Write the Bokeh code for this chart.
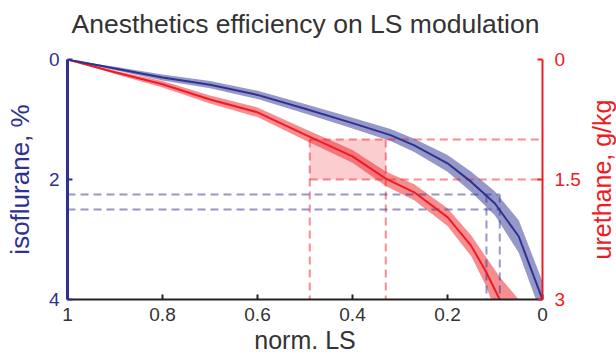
import math
from bokeh.plotting import figure
from bokeh.layouts import row, column
from bokeh.models import Range1d, LinearAxis, FixedTicker, NumeralTickFormatter
from bokeh.embed import file_html
from bokeh.resources import INLINE

# ---- texts ----
title_text = "Anesthetics efficiency on LS modulation"
x_label = "norm. LS"
iso_label = "isoflurane, %"
ure_label = "urethane, g/kg"

# ---- ticks ----
ls_ticks = [1.0, 0.8, 0.6, 0.4, 0.2, 0.0]
iso_ticks = [0, 2, 4]
ure_ticks = [0, 1.5, 3]

# ---- isoflurane (left axis) ----
ls_iso = [1.0, 0.9, 0.8, 0.7, 0.6, 0.5, 0.4, 0.32, 0.27, 0.2, 0.15, 0.1, 0.05, 0.0]
iso_mean = [0.0, 0.15, 0.30, 0.42, 0.59, 0.82, 1.06, 1.26, 1.43, 1.73, 2.04, 2.40, 2.95, 4.0]
iso_sd = [0.0, 0.03, 0.05, 0.06, 0.07, 0.08, 0.09, 0.10, 0.11, 0.14, 0.17, 0.20, 0.27, 0.30]

# ---- urethane (right axis) ----
ls_ure = [1.0, 0.9, 0.8, 0.7, 0.6, 0.5, 0.4, 0.33, 0.27, 0.2, 0.15, 0.12, 0.09, 0.05]
ure_mean = [0.0, 0.16, 0.31, 0.50, 0.66, 0.94, 1.21, 1.49, 1.66, 1.97, 2.33, 2.64, 3.0, 3.45]
ure_sd = [0.0, 0.02, 0.04, 0.05, 0.06, 0.07, 0.08, 0.09, 0.10, 0.11, 0.13, 0.18, 0.28, 0.45]

# ---- highlighted windows ----
ure_window_ls = [0.49, 0.33]
ure_window_dose = [1.0, 1.5]
iso_window_ls = [0.118, 0.09]
iso_window_dose = [2.25, 2.5]

NAVY = "#2e3192"
RED = "#ed1c24"
DARK = "#333333"
FONT = "Liberation Sans"

W, H = 616, 356
TITLE_H = 50
RIGHT_W = 33
FRAME_L, FRAME_R, FRAME_T, FRAME_B = 67, 543, 59, 300


def style_blank(f):
    f.outline_line_color = None
    f.grid.visible = False
    f.background_fill_color = "white"
    f.border_fill_color = "white"


# ---- title strip ----
pt = figure(width=W, height=TITLE_H, output_backend="svg", toolbar_location=None,
            x_axis_location=None, y_axis_location=None,
            x_range=Range1d(0, 1), y_range=Range1d(0, 1),
            min_border_left=FRAME_L, min_border_right=W - FRAME_R, min_border_top=0, min_border_bottom=0)
style_blank(pt)
pt.title.text = title_text
pt.title.align = "center"
pt.title.text_font = FONT
pt.title.text_font_size = "26.5px"
pt.title.text_font_style = "normal"
pt.title.text_color = DARK
pt.title.standoff = 13

# ---- main plot ----
PW, PH = W - RIGHT_W, H - TITLE_H
p = figure(width=PW, height=PH, output_backend="svg", toolbar_location=None,
           x_range=Range1d(1, 0), y_range=Range1d(4, 0),
           min_border_left=FRAME_L, min_border_right=PW - FRAME_R,
           min_border_top=FRAME_T - TITLE_H, min_border_bottom=H - FRAME_B)
p.extra_y_ranges = {"ure": Range1d(3, 0)}
style_blank(p)

iso_lo = [m - s for m, s in zip(iso_mean, iso_sd)]
iso_hi = [m + s for m, s in zip(iso_mean, iso_sd)]
ure_lo = [m - s for m, s in zip(ure_mean, ure_sd)]
ure_hi = [m + s for m, s in zip(ure_mean, ure_sd)]

# red window fill
p.quad(left=[ure_window_ls[0]], right=[ure_window_ls[1]],
       top=[ure_window_dose[0]], bottom=[ure_window_dose[1]],
       y_range_name="ure", fill_color=RED, fill_alpha=0.22, line_color=None)

p.varea(x=ls_ure, y1=ure_lo, y2=ure_hi, y_range_name="ure", fill_color=RED, fill_alpha=0.5)
p.varea(x=ls_iso, y1=iso_lo, y2=iso_hi, fill_color=NAVY, fill_alpha=0.5)

x_left = p.x_range.start
x_right = p.x_range.end
iso_bottom = p.y_range.start
ure_bottom = p.extra_y_ranges["ure"].start

dash = dict(line_dash="8 5", line_width=2)
# red dashed lines
p.segment(x0=[ure_window_ls[0]] * 2, x1=[x_right] * 2, y0=ure_window_dose, y1=ure_window_dose,
          y_range_name="ure", line_color=RED, line_alpha=0.5, **dash)
p.segment(x0=ure_window_ls, x1=ure_window_ls, y0=[ure_window_dose[0]] * 2, y1=[ure_bottom] * 2,
          y_range_name="ure", line_color=RED, line_alpha=0.5, **dash)
# blue dashed lines
p.segment(x0=[x_left] * 2, x1=[iso_window_ls[1]] * 2, y0=iso_window_dose, y1=iso_window_dose,
          line_color=NAVY, line_alpha=0.5, **dash)
p.segment(x0=iso_window_ls, x1=iso_window_ls, y0=[iso_window_dose[0]] * 2, y1=[iso_bottom] * 2,
          line_color=NAVY, line_alpha=0.5, **dash)

# mean lines
p.line(ls_ure, ure_mean, y_range_name="ure", line_color=RED, line_width=2)
p.line(ls_iso, iso_mean, line_color=NAVY, line_width=2)

# axes
xa = p.xaxis[0]
xa.ticker = FixedTicker(ticks=ls_ticks)
xa.formatter = NumeralTickFormatter(format="0.[0]")
xa.axis_line_color = "#222222"
xa.axis_line_width = 2
xa.major_tick_line_color = "#222222"
xa.major_tick_line_width = 2
xa.major_tick_in = 5
xa.major_tick_out = 0
xa.minor_tick_line_color = None
xa.major_label_text_font = FONT
xa.major_label_text_font_size = "19px"
xa.major_label_text_color = DARK
xa.major_label_standoff = 8
xa.axis_label = x_label
xa.axis_label_text_font = FONT
xa.axis_label_text_font_size = "25px"
xa.axis_label_text_font_style = "normal"
xa.axis_label_text_color = DARK
xa.axis_label_standoff = 2

ya = p.yaxis[0]
ya.ticker = FixedTicker(ticks=iso_ticks)
ya.axis_line_color = NAVY
ya.axis_line_width = 3
ya.major_tick_line_color = NAVY
ya.major_tick_line_width = 2
ya.major_tick_in = 5
ya.major_tick_out = 0
ya.minor_tick_line_color = None
ya.major_label_text_font = FONT
ya.major_label_text_font_size = "19px"
ya.major_label_text_color = NAVY
ya.major_label_standoff = 8
ya.axis_label = iso_label
ya.axis_label_text_font = FONT
ya.axis_label_text_font_size = "26px"
ya.axis_label_text_font_style = "normal"
ya.axis_label_text_color = NAVY
ya.axis_label_standoff = 11

ra = LinearAxis(y_range_name="ure")
ra.ticker = FixedTicker(ticks=ure_ticks)
ra.formatter = NumeralTickFormatter(format="0.[0]")
ra.axis_line_color = RED
ra.axis_line_width = 2
ra.major_tick_line_color = RED
ra.major_tick_line_width = 2
ra.major_tick_in = 5
ra.major_tick_out = 0
ra.minor_tick_line_color = None
ra.major_label_text_font = FONT
ra.major_label_text_font_size = "19px"
ra.major_label_text_color = RED
ra.major_label_standoff = 12
p.add_layout(ra, "right")

# ---- right axis title strip: a left-side axis label reads bottom-to-top ----
pr = figure(width=RIGHT_W, height=PH, output_backend="svg", toolbar_location=None,
            x_axis_location=None, y_axis_location="left",
            x_range=Range1d(0, 1), y_range=Range1d(0, 1),
            min_border_left=26, min_border_right=0,
            min_border_top=FRAME_T - TITLE_H, min_border_bottom=49)
style_blank(pr)
rl = pr.yaxis[0]
rl.ticker = FixedTicker(ticks=[])
rl.axis_line_color = None
rl.major_tick_in = 0
rl.major_tick_out = 0
rl.minor_tick_line_color = None
rl.major_label_text_font_size = "0px"
rl.major_label_standoff = 0
rl.axis_label = ure_label
rl.axis_label_text_font = FONT
rl.axis_label_text_font_size = "25px"
rl.axis_label_text_font_style = "normal"
rl.axis_label_text_color = RED
rl.axis_label_standoff = -6

layout = column(pt, row(p, pr, spacing=0), spacing=0)
open("out.html", "w").write(file_html(layout, INLINE))
